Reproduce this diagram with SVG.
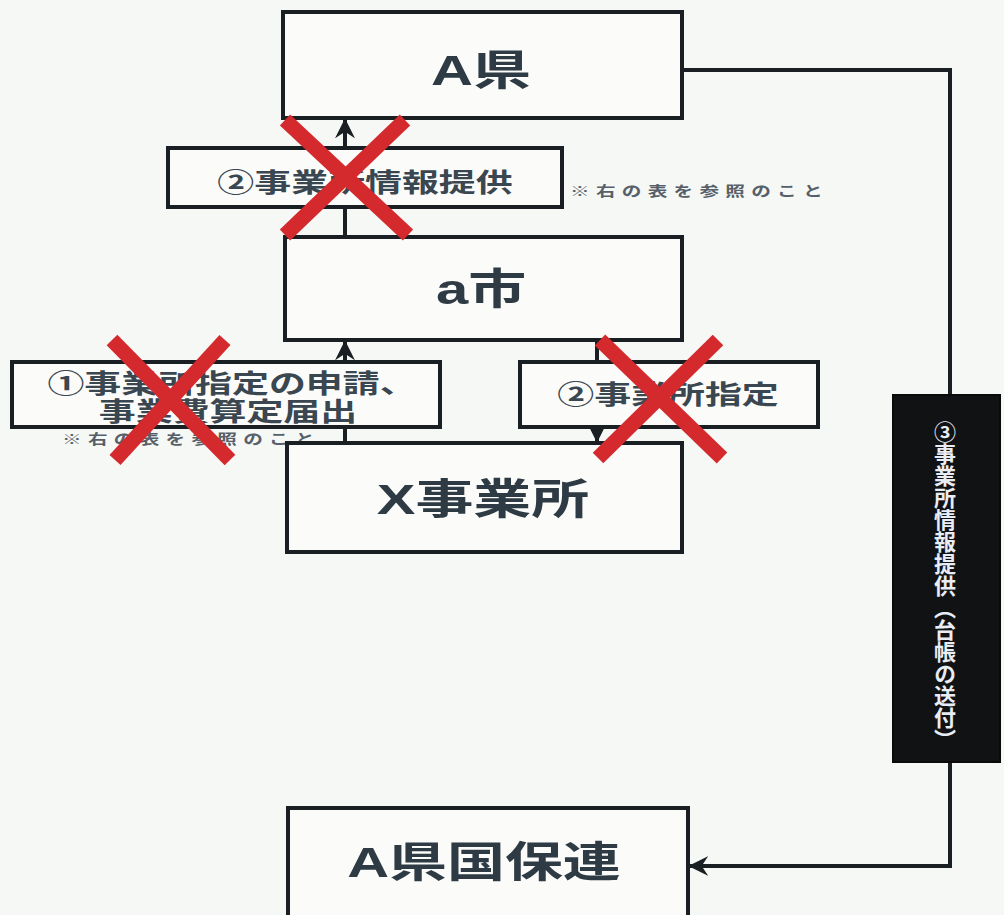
<svg xmlns="http://www.w3.org/2000/svg" width="1004" height="915" viewBox="0 0 1004 915">
<defs>
<style>
.box{fill:#fbfcfa;stroke:#1a1f24;stroke-width:4}
.big{font-family:"Liberation Sans","Noto Sans CJK JP",sans-serif;font-weight:bold;font-size:42px;fill:#2e3a44;text-anchor:middle}
.mid{font-family:"Liberation Sans","Noto Sans CJK JP",sans-serif;font-weight:bold;font-size:26px;fill:#3a4650;text-anchor:middle}
.note{font-family:"Liberation Sans","Noto Sans CJK JP",sans-serif;font-weight:bold;font-size:14px;letter-spacing:4.5px;fill:#56606a}
.line{fill:none;stroke:#1a1f24;stroke-width:4}
.cross{stroke:#d42a2e;stroke-width:15;stroke-linecap:butt}
.vt{font-family:"Noto Sans CJK JP",sans-serif;font-weight:bold;font-size:22px;fill:#e8ecf4;writing-mode:vertical-rl;text-anchor:middle}
</style>
<marker id="arr" viewBox="0 0 12 12" refX="11" refY="6" markerWidth="5" markerHeight="5" orient="auto-start-reverse" markerUnits="strokeWidth">
<path d="M0,0 L12,6 L0,12 L4,6 Z" fill="#1a1f24"/>
</marker>
</defs>
<rect width="1004" height="915" fill="#f6f8f5"/>
<g id="connectors">
<path class="line" d="M682,70 H950 V866 H690" marker-end="url(#arr)"/>
<path class="line" d="M345,237 V120" marker-end="url(#arr)"/>
<path class="line" d="M345,443 V342" marker-end="url(#arr)"/>
<path class="line" d="M597,340 V441" marker-end="url(#arr)"/>
</g>
<g id="node-aken">
<rect class="box" x="283" y="12" width="399" height="106"/>
<text class="big" transform="translate(481,85) scale(1.38,1)">A県</text>
</g>
<g id="node-label-info">
<rect class="box" x="168" y="148" width="394" height="59"/>
<text class="mid" transform="translate(365,192) scale(1.42,1)">②事業所情報提供</text>
<text class="note" transform="translate(570,196) scale(1.4,1)">※右の表を参照のこと</text>
</g>
<g id="node-ashi">
<rect class="box" x="285" y="237" width="397" height="103"/>
<text class="big" transform="translate(481,304) scale(1.38,1)">a市</text>
</g>
<g id="node-label-apply">
<rect class="box" x="12" y="362" width="428" height="65"/>
<text class="mid" transform="translate(232,393) scale(1.42,1)">①事業所指定の申請、</text>
<text class="mid" transform="translate(228,421) scale(1.42,1)">事業費算定届出</text>
<text class="note" transform="translate(62,444) scale(1.4,1)">※右の表を参照のこと</text>
</g>
<g id="node-label-designate">
<rect class="box" x="520" y="362" width="298" height="65"/>
<text class="mid" transform="translate(668,404) scale(1.42,1)">②事業所指定</text>
</g>
<g id="node-x">
<rect class="box" x="287" y="443" width="395" height="109"/>
<text class="big" transform="translate(483,514) scale(1.38,1)">X事業所</text>
</g>
<g id="node-kokuho">
<rect class="box" x="288" y="808" width="400" height="112"/>
<text class="big" transform="translate(484,877) scale(1.38,1)">A県国保連</text>
</g>
<g id="node-black">
<rect x="893" y="395" width="107" height="367" fill="#101214" stroke="#0a0a0a" stroke-width="2"/>
<text class="vt" x="945" y="586">③事業所情報提供（台帳の送付）</text>
</g>
<g id="crosses">
<line class="cross" x1="285" y1="120" x2="408" y2="235"/>
<line class="cross" x1="405" y1="120" x2="285" y2="235"/>
<line class="cross" x1="112" y1="340" x2="230" y2="460"/>
<line class="cross" x1="225" y1="340" x2="115" y2="460"/>
<line class="cross" x1="600" y1="340" x2="722" y2="458"/>
<line class="cross" x1="718" y1="340" x2="598" y2="458"/>
</g>
</svg>
